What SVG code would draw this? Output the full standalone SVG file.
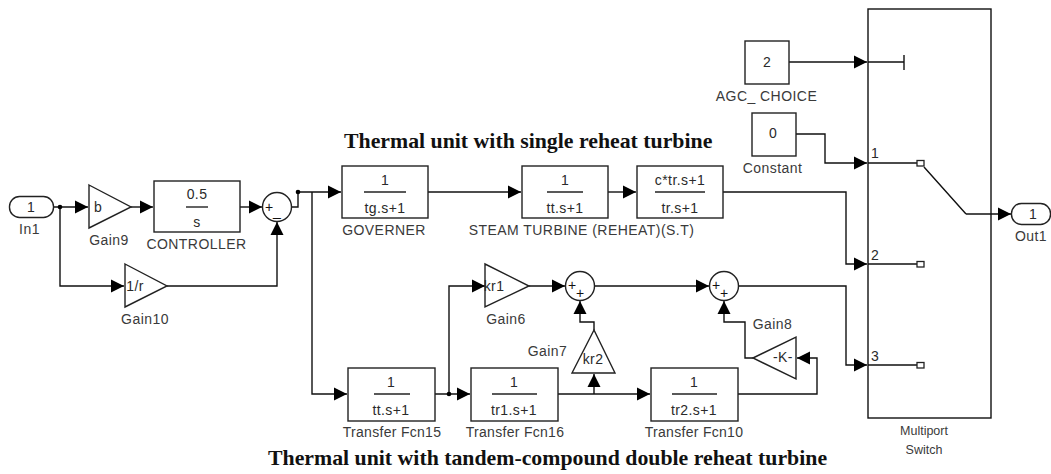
<svg xmlns="http://www.w3.org/2000/svg" width="1051" height="474" viewBox="0 0 1051 474">
<style>
.b{fill:#fff;stroke:#222;stroke-width:1.4}
.c{fill:none;stroke:#111;stroke-width:1.4;stroke-linejoin:miter}
.a{marker-end:url(#ah)}
.t{font-family:"Liberation Sans",Arial,sans-serif;font-size:14px;letter-spacing:.4px;fill:#2a2a2a;text-anchor:middle}
.l{font-family:"Liberation Sans",Arial,sans-serif;font-size:14px;letter-spacing:.45px;fill:#3a3a3a;text-anchor:middle}
.m{font-family:"Liberation Sans",Arial,sans-serif;font-size:14px;letter-spacing:.3px;fill:#3a3a3a;text-anchor:middle}
.n{font-family:"Liberation Sans",Arial,sans-serif;font-size:12.500px;fill:#3a3a3a;text-anchor:middle}
.h{font-family:"Liberation Serif","Times New Roman",serif;font-size:21.800px;font-weight:bold;fill:#111}
.s{font-family:"Liberation Sans",Arial,sans-serif;font-size:14px;fill:#111;text-anchor:middle}
.f{stroke:#222;stroke-width:1.4}
.d{fill:#000}
.p{fill:#fff;stroke:#222;stroke-width:1.3}
</style>
<defs>
<marker id="ah" markerUnits="userSpaceOnUse" markerWidth="14" markerHeight="14" refX="13" refY="7" orient="auto" viewBox="0 0 14 14"><path d="M0,0.5 L13,7 L0,13.5 Z" fill="#000"/></marker>
</defs>
<rect width="1051" height="474" fill="#fff"/>
<g id="connectors">
<path class="c a" d="M53,207 H88"/>
<path class="c a" d="M131,207 H153"/>
<path class="c a" d="M240,207 H262"/>
<path class="c a" d="M60,207 V286 H124"/>
<path class="c a" d="M167,286 H277 V222"/>
<path class="c a" d="M291,207 H298 V192 H341"/>
<path class="c a" d="M312,192 V394 H347"/>
<path class="c a" d="M428,192 H521"/>
<path class="c a" d="M608,192 H636"/>
<path class="c a" d="M723,192 H846 V264 H867"/>
<path class="c a" d="M435,394 H470"/>
<path class="c a" d="M449,394 V286 H485"/>
<path class="c a" d="M529,286 H565"/>
<path class="c a" d="M558,394 H650"/>
<path class="c a" d="M594,394 V374"/>
<path class="c a" d="M594,330 V322 H580 V301"/>
<path class="c a" d="M595,286 H709"/>
<path class="c a" d="M738,394 H817 V358 H797"/>
<path class="c a" d="M753,358 H745 V322 H724 V301"/>
<path class="c a" d="M739,286 H846 V365 H867"/>
<path class="c a" d="M789,62 H867"/>
<path class="c a" d="M796,134 H825 V163 H867"/>
<path class="c a" d="M966,214 H1011"/>
<circle class="d" cx="60" cy="207" r="2.300"/>
<circle class="d" cx="298" cy="192" r="2.300"/>
<circle class="d" cx="449" cy="394" r="2.300"/>
</g>
<g id="In1"><rect class="b" x="9.500" y="196.500" width="44" height="21" rx="10" ry="10"/><text class="t" x="31" y="212">1</text><text class="l" x="29.500" y="234">In1</text></g>
<g id="Gain9"><path class="b" d="M89,185 L131,207 L89,228 Z"/><text class="t" x="98" y="212">b</text><text class="l" x="109" y="245">Gain9</text></g>
<g id="CONTROLLER"><rect class="b" x="154" y="181" width="86" height="51"/><text class="t" x="197" y="199">0.5</text><path class="f" d="M186,207 H208"/><text class="t" x="197" y="227">s</text><text class="l" x="196.500" y="249">CONTROLLER</text></g>
<g id="Sum1"><circle class="b" cx="277" cy="207" r="14.500"/><text class="s" x="269" y="212">+</text><text class="s" x="277" y="216">_</text></g>
<g id="Gain10"><path class="b" d="M125,264 L167,286 L125,307 Z"/><text class="t" x="135" y="291">1/r</text><text class="l" x="145" y="324">Gain10</text></g>
<g id="GOVERNER"><rect class="b" x="342" y="166" width="86" height="52"/><text class="t" x="385" y="185">1</text><path class="f" d="M364,192 H406"/><text class="t" x="385" y="213">tg.s+1</text><text class="l" x="384" y="235">GOVERNER</text></g>
<g id="SteamTurbine"><rect class="b" x="522" y="166" width="86" height="52"/><text class="t" x="565" y="185">1</text><path class="f" d="M547,192 H583"/><text class="t" x="565" y="213">tt.s+1</text></g>
<g id="Reheat"><rect class="b" x="637" y="166" width="86" height="52"/><text class="t" x="680" y="185">c*tr.s+1</text><path class="f" d="M655,192 H705"/><text class="t" x="680" y="213">tr.s+1</text></g>
<text class="l" x="581.500" y="235">STEAM TURBINE (REHEAT)(S.T)</text>
<g id="TransferFcn15"><rect class="b" x="348" y="368" width="87" height="53"/><text class="t" x="391" y="387">1</text><path class="f" d="M374,394 H410"/><text class="t" x="391" y="415">tt.s+1</text><text class="m" x="392" y="437">Transfer Fcn15</text></g>
<g id="TransferFcn16"><rect class="b" x="471" y="368" width="87" height="53"/><text class="t" x="514" y="387">1</text><path class="f" d="M492,394 H537"/><text class="t" x="514" y="415">tr1.s+1</text><text class="m" x="515" y="437">Transfer Fcn16</text></g>
<g id="TransferFcn10"><rect class="b" x="651" y="368" width="87" height="53"/><text class="t" x="694" y="387">1</text><path class="f" d="M672,394 H717"/><text class="t" x="694" y="415">tr2.s+1</text><text class="m" x="694" y="437">Transfer Fcn10</text></g>
<g id="Gain6"><path class="b" d="M485,264 L529,286 L485,307 Z"/><text class="t" x="494" y="291">kr1</text><text class="l" x="506" y="324">Gain6</text></g>
<g id="Gain7"><path class="b" d="M594,330 L615,373 L572,373 Z"/><text class="t" x="593" y="364">kr2</text><text class="l" x="547.500" y="356">Gain7</text></g>
<g id="Gain8"><path class="b" d="M753,358 L796,337 L796,379 Z"/><text class="t" x="783" y="362">-K-</text><text class="l" x="772.500" y="329">Gain8</text></g>
<g id="Sum2"><circle class="b" cx="580" cy="286" r="14.500"/><text class="s" x="572" y="290">+</text><text class="s" x="580" y="298">+</text></g>
<g id="Sum3"><circle class="b" cx="724" cy="286" r="14.500"/><text class="s" x="716" y="290">+</text><text class="s" x="724" y="298">+</text></g>
<g id="AGC_CHOICE"><rect class="b" x="745" y="41" width="44" height="43"/><text class="t" x="767" y="67">2</text><text class="l" x="766.500" y="101">AGC_ CHOICE</text></g>
<g id="Constant"><rect class="b" x="752" y="113" width="44" height="43"/><text class="t" x="773" y="138">0</text><text class="l" x="772.500" y="173">Constant</text></g>
<g id="MultiportSwitch"><rect class="c" x="868" y="9" width="123" height="409"/>
<path class="c" d="M868,62 H904 M904,55 V70 M868,163 H917 M868,264 H917 M868,365 H917 M924,167 L966,214"/>
<rect class="p" x="917" y="160.500" width="7" height="5.500"/><rect class="p" x="917" y="261.500" width="7" height="5.500"/><rect class="p" x="917" y="362.500" width="7" height="5.500"/>
<text class="t" x="875" y="158">1</text><text class="t" x="875" y="260">2</text><text class="t" x="875" y="361">3</text>
<text class="n" x="924" y="435">Multiport</text><text class="n" x="924" y="454">Switch</text></g>
<g id="Out1"><rect class="b" x="1011.500" y="203.500" width="39" height="21" rx="10" ry="10"/><text class="t" x="1033" y="219">1</text><text class="l" x="1031" y="241">Out1</text></g>
<text class="h" x="344" y="148">Thermal unit with single reheat turbine</text>
<text class="h" x="268" y="465">Thermal unit with tandem-compound double reheat turbine</text>
</svg>
